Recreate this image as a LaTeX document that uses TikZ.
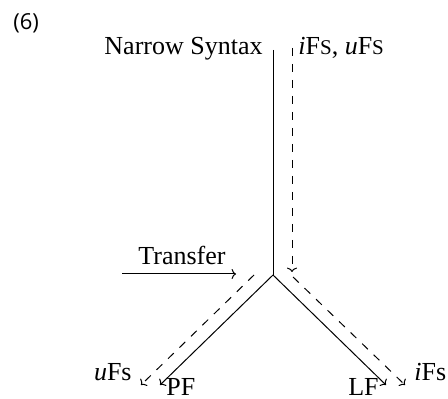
\documentclass[tikz,border=0pt]{standalone}
\usepackage{fontspec}
\setmainfont{Liberation Serif}
\newfontfamily\labelfont{Open Sans}
\usetikzlibrary{arrows.meta}
\begin{document}
\begin{tikzpicture}[x=0.5pt,y=-0.5pt,
  txt/.style={inner sep=0pt,anchor=base,font=\fontsize{13}{15}\selectfont},
  line/.style={line width=0.5pt},
  arr/.style={line width=0.5pt,-{To[length=2.2pt,width=5pt]}},
  darr/.style={line width=0.5pt,dash pattern=on 4pt off 4pt,-{To[length=2.2pt,width=5pt]}}]
\useasboundingbox (0,0) rectangle (448,399);
\node[inner sep=0pt,anchor=base west,font=\labelfont\fontsize{11}{13}\selectfont] (num) at (13,30) {(6)};
\node[txt,anchor=base east] (ns) at (263,55) {Narrow Syntax};
\node[txt,anchor=base west] (feat) at (298,55) {\textit{i}F{\fontsize{10.5}{12}\selectfont S}, \textit{u}F{\fontsize{10.5}{12}\selectfont S}};
\node[txt] (tr) at (182,265) {Transfer};
\node[txt,anchor=base east] (uf) at (132,380) {\textit{u}Fs};
\node[txt,anchor=base west] (pf) at (166,395) {PF};
\node[txt,anchor=base east] (lf) at (379,395) {LF};
\node[txt,anchor=base west] (if) at (414,380) {\textit{i}Fs};
\coordinate (top) at (273,50);
\coordinate (J) at (273,275);
\coordinate (pft) at (160,385);
\coordinate (lft) at (386,385);
\coordinate (dtop) at (292,48);
\coordinate (dbot) at (292,272);
\coordinate (dls) at (254,275);
\coordinate (dle) at (141,385);
\coordinate (drs) at (293,277);
\coordinate (dre) at (405,385);
\coordinate (ts) at (122,274);
\coordinate (te) at (236,274);
\draw[line] (top) -- (J);
\draw[arr] (J) -- (pft);
\draw[arr] (J) -- (lft);
\draw[darr] (dtop) -- (dbot);
\draw[darr] (dls) -- (dle);
\draw[darr] (drs) -- (dre);
\draw[arr] (ts) -- (te);
\end{tikzpicture}
\end{document}
